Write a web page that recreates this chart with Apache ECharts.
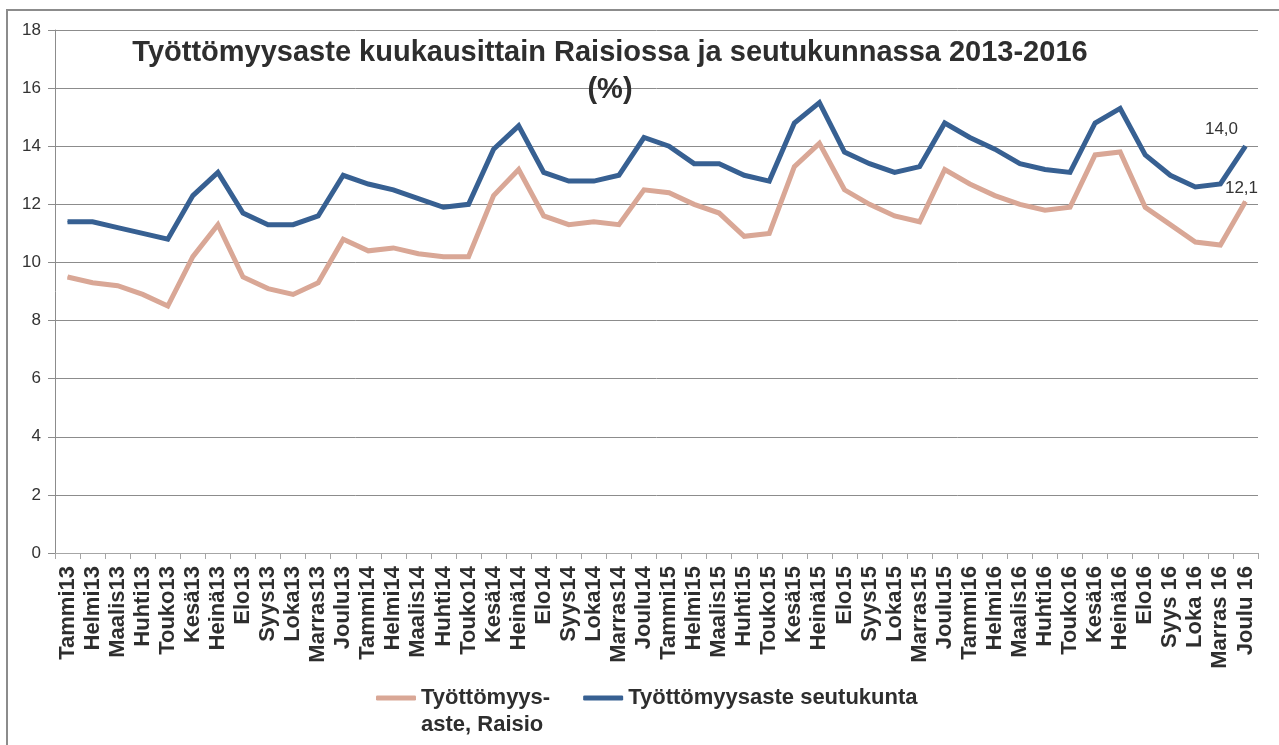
<!DOCTYPE html>
<html>
<head>
<meta charset="utf-8">
<script src="https://cdn.jsdelivr.net/npm/echarts@6/dist/echarts.min.js"></script>
<style>
html,body{margin:0;padding:0;background:#fff;}
#chart{width:1279px;height:745px;}
</style>
</head>
<body>
<div id="chart"></div>
<script>
const categories = [
  'Tammi13','Helmi13','Maalis13','Huhti13','Touko13','Kesä13','Heinä13','Elo13','Syys13','Loka13','Marras13','Joulu13',
  'Tammi14','Helmi14','Maalis14','Huhti14','Touko14','Kesä14','Heinä14','Elo14','Syys14','Loka14','Marras14','Joulu14',
  'Tammi15','Helmi15','Maalis15','Huhti15','Touko15','Kesä15','Heinä15','Elo15','Syys15','Loka15','Marras15','Joulu15',
  'Tammi16','Helmi16','Maalis16','Huhti16','Touko16','Kesä16','Heinä16','Elo16','Syys 16','Loka 16','Marras 16','Joulu 16'
];
const raisio = [
  9.5, 9.3, 9.2, 8.9, 8.5, 10.2, 11.3, 9.5, 9.1, 8.9, 9.3, 10.8,
  10.4, 10.5, 10.3, 10.2, 10.2, 12.3, 13.2, 11.6, 11.3, 11.4, 11.3, 12.5,
  12.4, 12.0, 11.7, 10.9, 11.0, 13.3, 14.1, 12.5, 12.0, 11.6, 11.4, 13.2,
  12.7, 12.3, 12.0, 11.8, 11.9, 13.7, 13.8, 11.9, 11.3, 10.7, 10.6, 12.1
];
const seutukunta = [
  11.4, 11.4, 11.2, 11.0, 10.8, 12.3, 13.1, 11.7, 11.3, 11.3, 11.6, 13.0,
  12.7, 12.5, 12.2, 11.9, 12.0, 13.9, 14.7, 13.1, 12.8, 12.8, 13.0, 14.3,
  14.0, 13.4, 13.4, 13.0, 12.8, 14.8, 15.5, 13.8, 13.4, 13.1, 13.3, 14.8,
  14.3, 13.9, 13.4, 13.2, 13.1, 14.8, 15.3, 13.7, 13.0, 12.6, 12.7, 14.0
];
const yTicks = { min: 0, max: 18, interval: 2 };
const titleText = 'Työttömyysaste kuukausittain Raisiossa ja seutukunnassa 2013-2016\n(%)';
const nameRaisio = 'Työttömyys-aste, Raisio';
const nameSeutu = 'Työttömyysaste seutukunta';

const FONT = '"Liberation Sans", Arial, sans-serif';
const TXT = '#2e2e2e';
const lastIdx = categories.length - 1;
const fmtLast = p => p.dataIndex === lastIdx ? Number(p.value).toFixed(1).replace('.', ',') : '';

const chart = echarts.init(document.getElementById('chart'), null, { renderer: 'canvas' });
chart.setOption({
  backgroundColor: '#ffffff',
  animation: false,
  textStyle: { fontFamily: FONT },
  graphic: [{
    type: 'rect', silent: true, z: -10,
    shape: { x: 7, y: 10, width: 1400, height: 900 },
    style: { fill: 'none', stroke: '#8c8c8c', lineWidth: 2 }
  }],
  title: {
    text: titleText,
    left: 605, top: 29, textAlign: 'center',
    textStyle: { fontFamily: FONT, fontSize: 29, fontWeight: 'bold', color: TXT, lineHeight: 37 }
  },
  grid: { left: 55, top: 30, right: 21, bottom: 192, containLabel: false },
  xAxis: {
    type: 'category',
    data: categories,
    boundaryGap: true,
    axisLine: { show: true, lineStyle: { color: '#a6a6a6', width: 1 } },
    axisTick: { show: true, alignWithLabel: false, length: 6, lineStyle: { color: '#a6a6a6' } },
    axisLabel: { interval: 0, rotate: 90, margin: 13, fontFamily: FONT, fontSize: 22, fontWeight: 'bold', color: TXT },
    splitLine: { show: false }
  },
  yAxis: {
    type: 'value',
    min: yTicks.min, max: yTicks.max, interval: yTicks.interval,
    axisLine: { show: true, lineStyle: { color: '#8c8c8c', width: 1 } },
    axisTick: { show: true, length: 7, lineStyle: { color: '#8c8c8c' } },
    axisLabel: { margin: 14, fontFamily: FONT, fontSize: 17, color: '#333333' },
    splitLine: { show: true, lineStyle: { color: '#8c8c8c', width: 1 } }
  },
  legend: {
    left: 376, top: 660, padding: 0,
    itemWidth: 40, itemHeight: 5, itemGap: 33,
    icon: 'roundRect',
    data: [nameRaisio, nameSeutu],
    formatter: name => name === nameRaisio ? '{e| }\n{c|Työttömyys-}\n{c|aste, Raisio}' : '{d|' + name + '}',
    textStyle: {
      fontFamily: FONT, fontSize: 22, fontWeight: 'bold', color: TXT,
      rich: {
        e: { fontFamily: FONT, fontSize: 22, lineHeight: 27 },
        c: { fontFamily: FONT, fontSize: 22, fontWeight: 'bold', color: TXT, lineHeight: 27 },
        d: { fontFamily: FONT, fontSize: 22, fontWeight: 'bold', color: TXT, lineHeight: 27 }
      }
    }
  },
  series: [
    {
      name: nameRaisio,
      type: 'line',
      data: raisio,
      symbol: 'circle', symbolSize: 1, showSymbol: true,
      lineStyle: { color: '#d9a796', width: 5, join: 'miter' },
      itemStyle: { color: '#d9a796' },
      label: { show: true, position: 'top', distance: 5, offset: [-4, 1], formatter: fmtLast, fontFamily: FONT, fontSize: 17, color: '#333333' },
      z: 2
    },
    {
      name: nameSeutu,
      type: 'line',
      data: seutukunta,
      symbol: 'circle', symbolSize: 1, showSymbol: true,
      lineStyle: { color: '#376092', width: 5, join: 'miter' },
      itemStyle: { color: '#376092' },
      label: { show: true, position: 'top', distance: 5, offset: [-24, -3], formatter: fmtLast, fontFamily: FONT, fontSize: 17, color: '#333333' },
      z: 3
    }
  ]
});
</script>
</body>
</html>
